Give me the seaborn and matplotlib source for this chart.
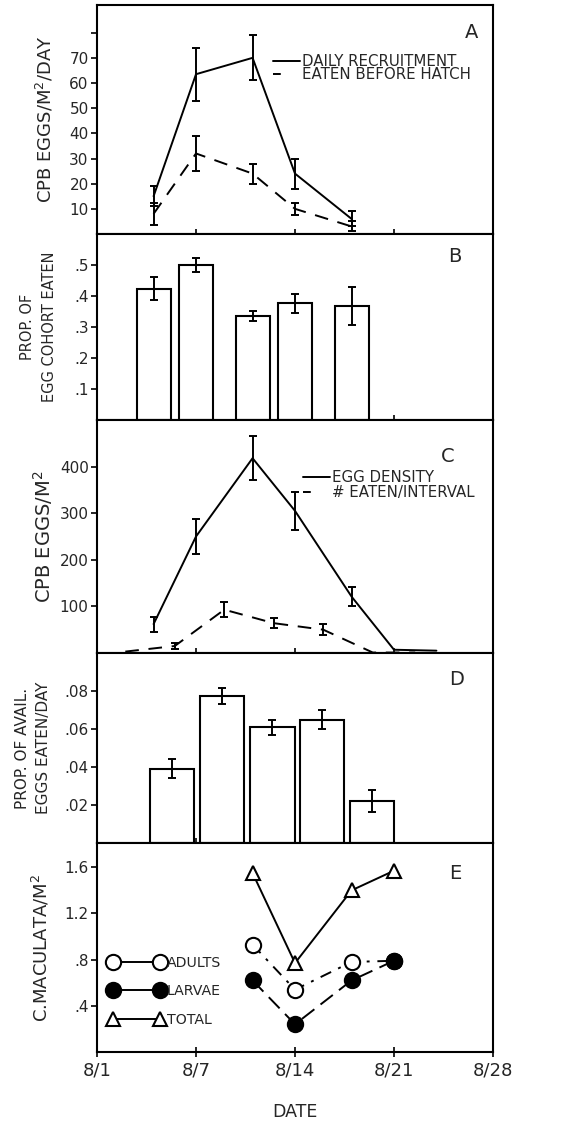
import numpy as np
import matplotlib
matplotlib.use('Agg')
import matplotlib.pyplot as plt
import seaborn as sns
from matplotlib.lines import Line2D

# ---------------- data ----------------
date_ticks = [0, 7, 14, 21, 28]
date_labels = ['8/1', '8/7', '8/14', '8/21', '8/28']

a_days = [4, 7, 11, 14, 18]
a_recruit = [15, 63.5, 70, 24, 6]
a_recruit_err = [4, 10.5, 9, 6, 3]
a_eaten = [8, 32, 24, 10, 3]
a_eaten_err = [4.5, 7, 4, 2.5, 2]

b_days = [4, 7, 11, 14, 18]
b_prop = [0.424, 0.50, 0.336, 0.376, 0.367]
b_err = [0.036, 0.021, 0.016, 0.032, 0.062]

c_density_days = [4, 7, 11, 14, 18, 21, 24]
c_density = [62, 250, 418, 305, 121, 7, 5]
c_density_err = [16, 38, 47, 41, 21, 0, 0]
c_eaten_days = [2, 5.5, 9, 12.5, 16, 19.5, 22.5]
c_eaten = [3, 15, 93, 64, 50, 1, 1]
c_eaten_err = [0, 7, 16, 11, 12, 0, 0]

d_days = [5.3, 8.85, 12.4, 15.9, 19.45]
d_prop = [0.039, 0.0775, 0.061, 0.065, 0.022]
d_err = [0.005, 0.0043, 0.004, 0.0048, 0.0057]

e_days = [11, 14, 18, 21]
e_adults = [0.93, 0.54, 0.78, 0.79]
e_larvae = [0.62, 0.24, 0.62, 0.79]
e_total = [1.55, 0.77, 1.40, 1.57]

# ---------------- style ----------------
sns.set_style('ticks')
plt.rcParams['font.family'] = ['DejaVu Sans']
plt.rcParams['axes.linewidth'] = 1.5
plt.rcParams['mathtext.fontset'] = 'dejavusans'

W, H = 566, 1121
fig = plt.figure(figsize=(W / 100, H / 100), dpi=100)
fig.patch.set_facecolor('white')

left_px, right_px = 97, 493
bounds = [5, 234, 420, 653, 843, 1052]
axes = []
for i in range(5):
    top, bot = bounds[i], bounds[i + 1]
    ax = fig.add_axes([left_px / W, 1 - bot / H, (right_px - left_px) / W, (bot - top) / H])
    axes.append(ax)
axA, axB, axC, axD, axE = axes

LW = 1.4
ERR_KW = dict(fmt='none', ecolor='k', elinewidth=1.4, capsize=3, capthick=1.4)


def errbars(ax, x, y, e):
    x = np.asarray(x, float); y = np.asarray(y, float); e = np.asarray(e, float)
    m = e > 0
    ax.errorbar(x[m], y[m], yerr=e[m], zorder=5, **ERR_KW)


# ---- Panel A ----
sns.lineplot(x=a_days, y=a_recruit, ax=axA, color='k', lw=LW, linestyle='-')
sns.lineplot(x=a_days, y=a_eaten, ax=axA, color='k', lw=LW, linestyle=(0, (7, 5)))
errbars(axA, a_days, a_recruit, a_recruit_err)
errbars(axA, a_days, a_eaten, a_eaten_err)
axA.set_ylim(0, 91)
axA.set_yticks([10, 20, 30, 40, 50, 60, 70, 80])
axA.set_yticklabels(['10', '20', '30', '40', '50', '60', '70', ''])
axA.set_ylabel('CPB EGGS/M$^2$/DAY', fontsize=13)
hA = [Line2D([], [], color='k', lw=LW, ls='-'), Line2D([], [], color='k', lw=LW, ls=(0, (4, 100)))]
axA.legend(hA, ['DAILY RECRUITMENT', 'EATEN BEFORE HATCH'], loc='upper left',
           bbox_to_anchor=(0.445, 0.785), frameon=False, fontsize=10.8, handlelength=1.8,
           handletextpad=0.15, labelspacing=-0.12, borderaxespad=0, borderpad=0)
axA.text(0.947, 0.882, 'A', transform=axA.transAxes, fontsize=14, ha='center', va='center')

# ---- Panel B ----
sns.barplot(x=b_days, y=b_prop, ax=axB, native_scale=True, orient='x', width=0.8,
            color='white', edgecolor='k', linewidth=1.5, errorbar=None)
errbars(axB, b_days, b_prop, b_err)
axB.set_ylim(0, 0.6)
axB.set_yticks([0.1, 0.2, 0.3, 0.4, 0.5])
axB.set_yticklabels(['.1', '.2', '.3', '.4', '.5'])
axB.set_ylabel('PROP. OF\nEGG COHORT EATEN', fontsize=10.5, linespacing=1.6)
axB.text(0.904, 0.878, 'B', transform=axB.transAxes, fontsize=14, ha='center', va='center')

# ---- Panel C ----
sns.lineplot(x=c_density_days, y=c_density, ax=axC, color='k', lw=LW, linestyle='-')
sns.lineplot(x=c_eaten_days, y=c_eaten, ax=axC, color='k', lw=LW, linestyle=(0, (7, 5)))
errbars(axC, c_density_days, c_density, c_density_err)
errbars(axC, c_eaten_days, c_eaten, c_eaten_err)
axC.set_ylim(0, 500)
axC.set_yticks([100, 200, 300, 400])
axC.set_yticklabels(['100', '200', '300', '400'])
axC.set_ylabel('CPB EGGS/M$^2$', fontsize=14)
hC = [Line2D([], [], color='k', lw=LW, ls='-'), Line2D([], [], color='k', lw=LW, ls=(0, (4, 100)))]
axC.legend(hC, ['EGG DENSITY', '# EATEN/INTERVAL'], loc='upper left',
           bbox_to_anchor=(0.52, 0.785), frameon=False, fontsize=10.8, handlelength=1.8,
           handletextpad=0.15, labelspacing=0.0, borderaxespad=0, borderpad=0)
axC.text(0.886, 0.845, 'C', transform=axC.transAxes, fontsize=14, ha='center', va='center')

# ---- Panel D ----
sns.barplot(x=d_days, y=d_prop, ax=axD, native_scale=True, orient='x', width=0.9,
            color='white', edgecolor='k', linewidth=1.5, errorbar=None)
errbars(axD, d_days, d_prop, d_err)
axD.set_ylim(0, 0.1)
axD.set_yticks([0.02, 0.04, 0.06, 0.08])
axD.set_yticklabels(['.02', '.04', '.06', '.08'])
axD.set_ylabel('PROP. OF AVAIL.\nEGGS EATEN/DAY', fontsize=11, linespacing=1.5)
axD.text(0.909, 0.858, 'D', transform=axD.transAxes, fontsize=14, ha='center', va='center')

# ---- Panel E ----
MS = 11
sns.lineplot(x=e_days, y=e_adults, ax=axE, color='k', lw=LW, linestyle=(0, (6, 4, 1.5, 4)),
             marker='o', markersize=MS, markerfacecolor='white', markeredgecolor='k',
             markeredgewidth=1.5, zorder=3)
sns.lineplot(x=e_days, y=e_larvae, ax=axE, color='k', lw=LW, linestyle=(0, (8, 4)),
             marker='o', markersize=MS, markerfacecolor='k', markeredgecolor='k',
             markeredgewidth=1.5, zorder=4)
sns.lineplot(x=e_days, y=e_total, ax=axE, color='k', lw=LW, linestyle='-',
             marker='^', markersize=MS - 1, markerfacecolor='white', markeredgecolor='k',
             markeredgewidth=1.5, zorder=5)
axE.set_ylim(0, 1.81)
axE.set_yticks([0.4, 0.8, 1.2, 1.6])
axE.set_yticklabels(['.4', '.8', '1.2', '1.6'])
axE.set_ylabel('C.MACULATA/M$^2$', fontsize=13)
hE = [Line2D([], [], color='k', lw=LW, marker='o', ms=MS, mfc='white', mec='k', mew=1.5),
      Line2D([], [], color='k', lw=LW, marker='o', ms=MS, mfc='k', mec='k', mew=1.5),
      Line2D([], [], color='k', lw=LW, marker='^', ms=MS - 1, mfc='white', mec='k', mew=1.5)]
axE.legend(hE, ['ADULTS', 'LARVAE', 'TOTAL'], loc='center left', bbox_to_anchor=(0.03, 0.29),
           numpoints=2, frameon=False, fontsize=10.2, handlelength=3.9, handletextpad=0.2,
           labelspacing=1.05, borderaxespad=0, borderpad=0)
axE.text(0.904, 0.856, 'E', transform=axE.transAxes, fontsize=14, ha='center', va='center')
axE.set_xlabel('DATE', fontsize=12.5, labelpad=17)

# ---- shared x axis & ticks ----
label_x = {0: -0.106, 1: -0.100, 2: -0.106, 3: -0.117, 4: -0.114}
for i, ax in enumerate(axes):
    ax.set_xlim(0, 28)
    ax.set_xticks(date_ticks)
    if i < 4:
        ax.set_xticklabels([])
        ax.set_xlabel('')
    else:
        ax.set_xticklabels(date_labels, fontsize=13)
    ax.tick_params(axis='x', direction='inout', length=7, width=1.4, pad=3)
    ax.tick_params(axis='y', direction='out', length=4, width=1.4, labelsize=11, pad=2)
    ax.yaxis.set_label_coords(label_x[i], 0.5)
    for s in ax.spines.values():
        s.set_visible(True)
        s.set_linewidth(1.5)
        s.set_color('k')
    ax.set_facecolor('white')

fig.savefig('out.png', dpi=100, facecolor='white')
